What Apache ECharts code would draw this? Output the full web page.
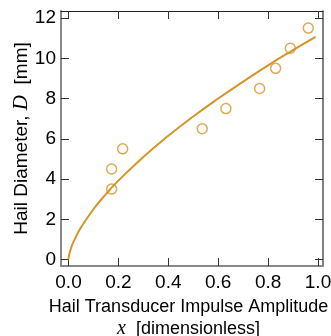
<!DOCTYPE html>
<html><head><meta charset="utf-8">
<script src="https://cdn.jsdelivr.net/npm/echarts@6/dist/echarts.min.js"></script>
<style>html,body{margin:0;padding:0;background:#fff}#c{width:331px;height:336px}</style>
</head><body><div id="c"></div>
<script>
// Measured hail data
const obsX = [0.173, 0.173, 0.217, 0.536, 0.631, 0.766, 0.830, 0.889, 0.961];
const obsY = [3.5, 4.5, 5.5, 6.5, 7.5, 8.5, 9.5, 10.5, 11.5];
// Fitted curve
const fitX = [0, 0.002, 0.01, 0.02, 0.05, 0.1, 0.15, 0.2, 0.3, 0.4, 0.5, 0.6, 0.7, 0.8, 0.9, 0.99];
const fitY = [0, 0.20, 0.56, 0.88, 1.59, 2.50, 3.25, 3.92, 5.10, 6.15, 7.11, 8.00, 8.84, 9.65, 10.41, 11.07];
const xTicks = [0, 0.2, 0.4, 0.6, 0.8, 1.0];
const yTicks = [0, 2, 4, 6, 8, 10, 12];

const C = '#d4952a';
const FONT = '"Liberation Sans", Arial, sans-serif';
const SERIF = '"Liberation Serif", "DejaVu Serif", serif';
const chart = echarts.init(document.getElementById('c'), null, {renderer: 'canvas'});
const xBase = {
  type: 'value', min: -0.03, max: 1.02,
  splitLine: {show: false},
  axisTick: {show: true, inside: true, length: 8, customValues: xTicks, lineStyle: {color: '#333', width: 1}},
};
const yBase = {
  type: 'value', min: -0.32, max: 12.35,
  splitLine: {show: false},
  axisTick: {show: true, inside: true, length: 8, customValues: yTicks, lineStyle: {color: '#333', width: 1}},
};
chart.setOption({
  animation: false,
  grid: {left: 61, right: 8, top: 11, bottom: 70, containLabel: false, outerBoundsMode: 'none'},
  xAxis: [
    Object.assign({}, xBase, {
      position: 'bottom',
      axisLine: {show: true, onZero: false, lineStyle: {color: '#888', width: 2}},
      axisLabel: {show: true, customValues: xTicks, margin: 7, color: '#000', fontSize: 19, fontFamily: FONT,
        formatter: v => v.toFixed(1)},
      name: '{a|Hail Transducer Impulse Amplitude}\n{i|x}{a|  [dimensionless]}',
      nameLocation: 'middle', nameGap: 30, nameMoveOverlap: false,
      nameTextStyle: {
        color: '#000', fontSize: 18, fontFamily: FONT, lineHeight: 22, padding: [0, 7, 0, 0],
        rich: {
          a: {fontSize: 18, fontFamily: FONT, color: '#000', lineHeight: 22},
          i: {fontSize: 20, fontFamily: SERIF, fontStyle: 'italic', color: '#000', lineHeight: 22}
        }
      }
    }),
    Object.assign({}, xBase, {
      position: 'top',
      axisLine: {show: true, onZero: false, lineStyle: {color: '#222', width: 1}},
      axisLabel: {show: false}
    })
  ],
  yAxis: [
    Object.assign({}, yBase, {
      position: 'left',
      axisLine: {show: true, onZero: false, lineStyle: {color: '#888', width: 2}},
      axisLabel: {show: true, customValues: yTicks, margin: 5, color: '#000', fontSize: 19, fontFamily: FONT},
      name: '{a|Hail Diameter, }{i|D}{a|  [mm]}',
      nameLocation: 'middle', nameGap: 29, nameRotate: 90, nameMoveOverlap: false,
      nameTextStyle: {
        color: '#000', fontSize: 19, fontFamily: FONT,
        rich: {
          a: {fontSize: 19, fontFamily: FONT, color: '#000'},
          i: {fontSize: 21, fontFamily: SERIF, fontStyle: 'italic', color: '#000'}
        }
      }
    }),
    Object.assign({}, yBase, {
      position: 'right',
      axisLine: {show: true, onZero: false, lineStyle: {color: '#555', width: 1.5}},
      axisLabel: {show: false}
    })
  ],
  series: [
    {
      type: 'line', xAxisIndex: 0, yAxisIndex: 0,
      data: fitX.map((x, i) => [x, fitY[i]]),
      showSymbol: false, smooth: true,
      lineStyle: {color: C, width: 2},
      z: 2
    },
    {
      type: 'scatter', xAxisIndex: 0, yAxisIndex: 0,
      data: obsX.map((x, i) => [x, obsY[i]]),
      symbol: 'circle', symbolSize: 10,
      itemStyle: {color: 'rgba(0,0,0,0)', borderColor: C, borderWidth: 1.5},
      z: 3
    }
  ]
});
</script></body></html>
